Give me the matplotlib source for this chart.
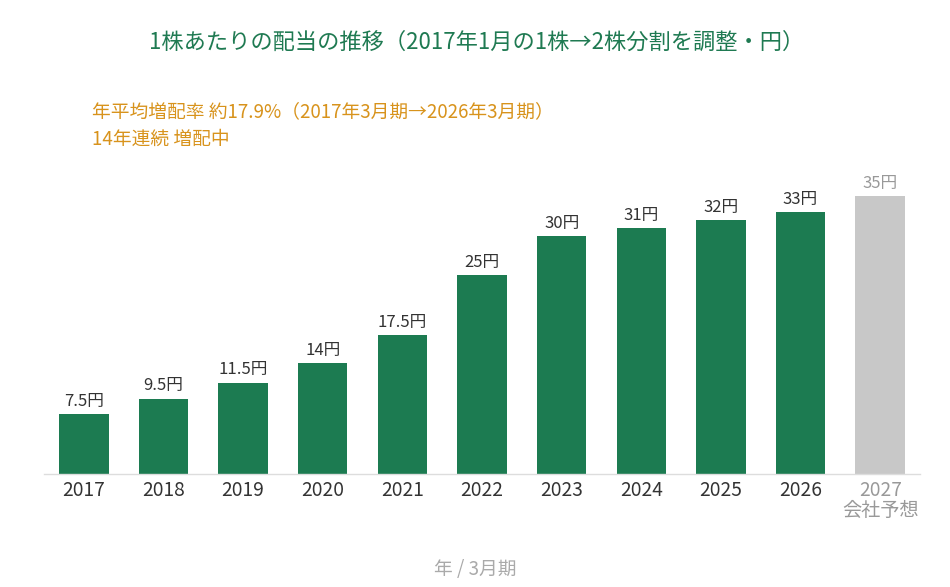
import matplotlib
matplotlib.use("Agg")
import matplotlib.pyplot as plt

plt.rcParams['font.family'] = ['Noto Sans CJK JP', 'DejaVu Sans']

years = ["2017", "2018", "2019", "2020", "2021", "2022", "2023", "2024", "2025", "2026", "2027"]
dividends = [7.5, 9.5, 11.5, 14, 17.5, 25, 30, 31, 32, 33, 35]
value_labels = ["7.5円", "9.5円", "11.5円", "14円", "17.5円", "25円", "30円", "31円", "32円", "33円", "35円"]
forecast = [False] * 10 + [True]

title = "1株あたりの配当の推移（2017年1月の1株→2株分割を調整・円）"
note1 = "年平均増配率 約17.9%（2017年3月期→2026年3月期）"
note2 = "14年連続 増配中"
xlabel = "年 / 3月期"

green = "#1c7b51"
gray_bar = "#c8c8c8"

fig = plt.figure(figsize=(9.5, 5.87), dpi=100)
W, H = 950, 587
ax = fig.add_axes([44 / W, (H - 474) / H, (920 - 44) / W, (474 - 160) / H])

x = list(range(len(years)))
colors = [gray_bar if f else green for f in forecast]
ax.bar(x, dividends, width=0.62, color=colors, zorder=2)
ax.set_xlim(-0.5, len(years) - 0.5)
ax.set_ylim(0, (474 - 160) / ((474 - 196) / 35))

for i, (v, lab, f) in enumerate(zip(dividends, value_labels, forecast)):
    ax.annotate(lab, (i, v), xytext=(0, 3), textcoords="offset points",
                ha="center", va="bottom", fontsize=12,
                color="#999999" if f else "#333333")

for s in ["top", "right", "left"]:
    ax.spines[s].set_visible(False)
ax.spines["bottom"].set_color("#dddddd")
ax.spines["bottom"].set_linewidth(1)
ax.set_yticks([])
ax.set_xticks(x)
ax.set_xticklabels([y + ("\n会社予想" if f else "") for y, f in zip(years, forecast)],
                   fontsize=13.8, linespacing=0.95)
for lbl, f in zip(ax.get_xticklabels(), forecast):
    lbl.set_color("#999999" if f else "#333333")
    lbl.set_verticalalignment("top")
ax.tick_params(axis="x", length=0, pad=4)

fig.text(477 / W, 1 - 42 / H, title, ha="center", va="center", fontsize=16, color="#1f7a52")
fig.text(92 / W, 1 - 112 / H, note1, ha="left", va="center", fontsize=13.5, color="#d8931c")
fig.text(92 / W, 1 - 139 / H, note2, ha="left", va="center", fontsize=13.5, color="#d8931c")
fig.text(475 / W, 1 - 569 / H, xlabel, ha="center", va="center", fontsize=13.5, color="#aaaaaa")

fig.savefig("out.png", dpi=100)
